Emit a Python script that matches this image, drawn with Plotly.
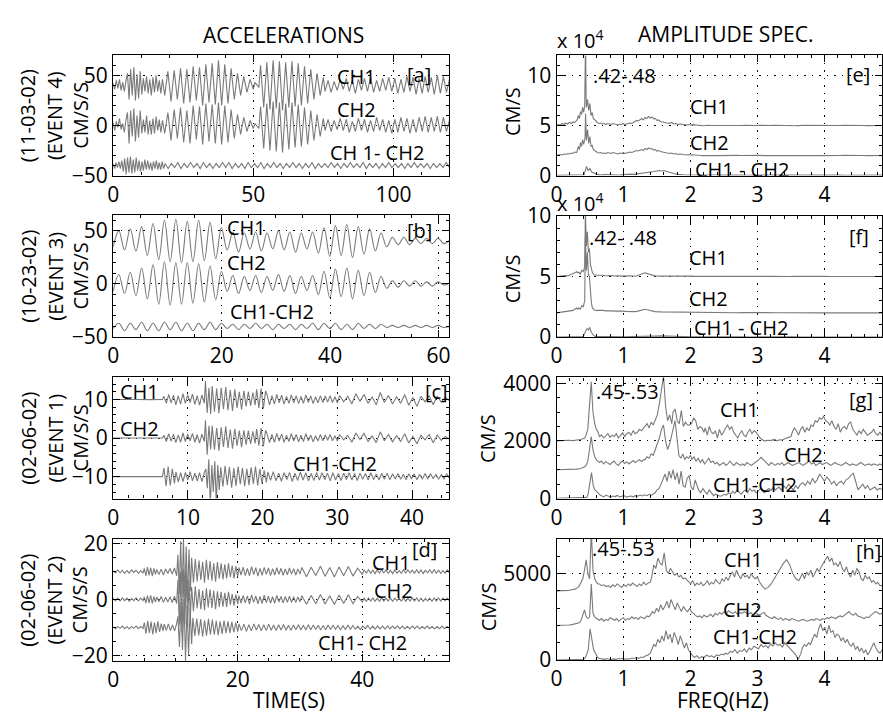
import numpy as np
import plotly.graph_objects as go

# ---------------- DATA ----------------
# Each trace: list of (x_start, x_end, values) runs; values evenly spaced in the run.
# Accelerations (cm/s/s), raw signals; plotted with vertical offsets.
A_CH1 = [
    (0.0, 17.6, [2,-4,5,-3,6,-5,3,-6,4,12,-14,16,-10,18,-15,11,-13,14,-9,7,-6,9,-8,6,-10,8,-7,10,-6,5,-8,6]),
    (18.4, 50.0, [-10,14,-16,15,-14,17,-18,16,-17,19,-15,18,-20,21,-17,22,-19,25,-20,21,-18,17,-14,12,-10,9,-7,6,-4]),
    (50.6, 52.0, [3,-2]),
    (52.6, 75.0, [20,-22,23,-24,25,-23,24,-25,23,-22,24,-21,22,-20,19,-18,16,-14,12,-10,8]),
    (75.6, 120.0, [-6,5,-7,4,-5,6,-4,7,-6,5,-8,6,-5,7,-6,8,-7,5,-6,7,-5,8,-6,7,-8,6,-7,9,-6,8,-9,7,-8,9,-7,8,-9,10,-8,9,-7,6]),
]
A_CH2 = [
    (0.0, 17.6, [3,-5,4,-2,7,-4,2,-7,5,13,-18,15,-11,17,-16,10,-12,15,-8,6,-7,10,-9,5,-9,7,-8,9,-5,6,-7,5]),
    (18.4, 50.0, [-8,13,-15,16,-13,18,-17,15,-18,20,-14,19,-19,22,-16,21,-18,23,-19,20,-17,16,-13,11,-9,8,-6,5,-3]),
    (50.6, 52.0, [2,-3]),
    (52.6, 75.0, [19,-23,22,-25,24,-26,23,-27,22,-24,23,-22,21,-21,18,-19,15,-15,11,-11,7]),
    (75.6, 120.0, [-5,6,-6,5,-4,7,-5,6,-7,4,-6,7,-5,6,-7,5,-6,8,-5,6,-7,5,-8,6,-7,8,-6,7,-8,6,-7,8,-6,9,-7,8,-6,9,-7,8,-6,5]),
]
A_DIF = [
    (0.0, 18.0, [2,-3,3,-2,4,-3,5,-6,7,-9,8,-7,9,-8,6,-7,8,-5,5,-6,4,-5,6,-4,5,-4,3,-5,4,-3,5,-4,3,-4,4,-3]),
    (18.5, 120.0, [2,-3,2,-2,3,-3,2,-2,3,-2,2,-3,3,-2,2,-3,2,-2,3,-2,3,-3,2,-2,2,-3,3,-2,2,-2,3,-3,2,-2,3,-2,2,-3,2,-2,3,-2,2,-3,2,-2,3,-3,2,-2,2,-2,3,-2,2,-3,2,-2,3,-2,2,-2,3,-3,2,-2,2,-3,2,-2,3,-2,2,-2,2,-3,2,-2,3,-2,2,-2,2,-3,2,-2,2,-2,3,-2]),
]
B_CH1 = [(0.0, 62.0, [-5,10,-8,12,-9,14,-13,17,-17,20,-19,21,-20,19,-19,20,-18,18,-16,13,-8,9,-10,8,-7,9,-9,8,-7,10,-8,9,-10,8,-7,9,-11,13,-14,15,-13,16,-15,14,-12,12,-9,8,-5,4,-3,4,-3,3,-2,3,-2,3,-2,1])]
B_CH2 = [(0.0, 62.0, [-7,9,-9,11,-11,15,-14,18,-19,21,-20,20,-19,20,-18,19,-17,17,-15,12,-7,8,-9,7,-6,8,-8,7,-6,9,-7,8,-9,7,-6,8,-10,12,-13,14,-12,15,-14,13,-11,11,-8,7,-4,3,-3,3,-2,3,-2,2,-2,2,-1,1])]
B_DIF = [(0.0, 62.0, [-2,3,-4,3,-3,4,-4,3,-4,4,-3,4,-4,3,-4,3,-3,4,-3,3,-2,2,-3,2,-2,3,-2,2,-3,2,-2,2,-3,2,-2,3,-3,3,-2,3,-3,2,-3,3,-2,2,-2,2,-1,1,-1,1,-1,1,-1,1,-1,1,-1,0])]
C_CH1 = [
    (0.0, 6.6, [0,0.05,0,-0.05,0]),
    (6.8, 12.2, [0.8,-1.0,1.3,-0.9,1.1,-1.4,0.9,-1.2,1.5,-1.0,1.2,-0.8,1.4,-1.3,1.0,-1.5,1.2,-1.0]),
    (12.35, 13.05, [4.8,-3.5,3.0,-3.8]),
    (13.25, 19.0, [3.5,-3.2,2.8,-3.6,3.0,-2.5,3.2,-2.8,2.4,-3.0,2.6,-2.2,2.0,-2.6,2.2,-1.8,2.0,-1.6,1.8,-1.5]),
    (19.2, 20.4, [2.6,-2.2,2.8,-2.4,2.2]),
    (20.6, 30.0, [1.2,-1.4,1.0,-1.2,1.3,-0.9,1.1,-1.2,0.8,-1.0,1.2,-0.9,1.0,-1.1,0.8,-1.0,1.2,-0.8,0.9,-1.1,0.7,-0.9,1.0,-0.8,0.9,-0.7,1.0,-0.8,0.7,-0.9]),
    (30.3, 45.0, [1.0,-0.6,0.8,-1.2,1.5,-0.5,1.3,-1.0,0.6,-1.4,1.8,-0.8,1.0,-1.2,0.7,-1.0,1.2,-1.5,0.5,-1.8,0.8,-0.6,1.0,-1.4,0.9,-0.7,0.5,-0.3]),
]
C_CH2 = [
    (0.0, 6.6, [0,0,0.05,0,0]),
    (6.8, 12.2, [0.7,-0.9,1.1,-0.8,1.0,-1.2,0.8,-1.1,1.3,-0.9,1.0,-0.7,1.2,-1.1,0.9,-1.3,1.0,-0.9]),
    (12.35, 13.05, [4.6,-4.3,3.2,-3.0]),
    (13.25, 19.0, [3.2,-3.0,2.6,-3.3,2.8,-2.3,3.0,-2.6,2.2,-2.8,2.4,-2.0,1.9,-2.4,2.0,-1.7,1.9,-1.5,1.7,-1.4]),
    (19.2, 20.4, [2.4,-2.0,2.6,-2.2,2.0]),
    (20.6, 30.0, [1.0,-1.2,0.9,-1.1,1.2,-0.8,1.0,-1.1,0.7,-0.9,1.1,-0.8,0.9,-1.0,0.7,-0.9,1.1,-0.7,0.8,-1.0,0.6,-0.8,0.9,-0.7,0.8,-0.6,0.9,-0.7,0.6,-0.8]),
    (30.3, 45.0, [0.9,-0.5,0.7,-1.1,1.3,-0.4,1.2,-0.9,0.5,-1.2,1.6,-0.7,0.9,-1.0,0.6,-0.9,1.1,-1.3,0.4,-1.5,0.7,-0.5,0.9,-1.2,0.8,-0.6,0.4,-0.3]),
]
C_DIF = [
    (0.0, 6.6, [0,0,0,0,0]),
    (6.8, 8.2, [2.2,-2.5,2.6,-2.3,2.0,-1.8]),
    (8.4, 12.2, [1.2,-1.4,1.0,-1.3,1.1,-0.9,1.3,-1.1,0.9,-1.2,1.0,-1.3,1.1]),
    (12.4, 14.2, [2.0,-3.0,4.5,-7.5,3.0,-4.0,4.0,-7.0,3.0,-3.5]),
    (14.4, 20.5, [2.4,-2.6,2.8,-2.2,2.5,-2.9,2.2,-2.4,2.6,-2.0,2.3,-2.5,2.0,-2.2,2.4,-1.9,2.6,-2.3,2.0,-1.8,1.6,-1.5]),
    (20.7, 45.0, [1.2,-1.0,1.3,-1.1,0.9,-1.2,1.0,-0.8,1.1,-1.3,0.9,-1.0,1.2,-0.9,1.0,-1.1,0.8,-1.0,1.1,-0.9,1.0,-0.8,0.9,-1.1,1.0,-0.9,0.8,-1.0,0.9,-0.8,1.0,-0.9,0.8,-1.0,0.9,-0.7,0.8,-0.9,1.0,-0.8,0.7,-0.9,0.8,-0.7,0.9,-0.8,0.7,-0.6,0.8,-0.7,0.6,-0.8,0.7,-0.6,0.7,-0.8,0.6,-0.7,0.8,-0.6,0.7,-0.5,0.6,-0.7,0.5,-0.6,0.7,-0.5]),
]
D_CH1 = [
    (0.0, 4.8, [0.3,-0.5,0.6,-0.4,0.5,-0.6,0.4,-0.5,0.6,-0.3,0.5,-0.6,0.4,-0.5]),
    (5.0, 6.8, [1.2,-1.5,1.6,-1.3,1.4,-1.6,1.2,-1.0]),
    (7.0, 10.2, [0.8,-1.0,0.9,-1.2,1.0,-0.7,1.1,-0.9,1.3,-1.5]),
    (10.4, 12.4, [6,-8,11,-9,12,-10,9,-11,8,-7]),
    (12.6, 20.0, [5,-4,4.5,-3.5,4,-3,3.5,-4,4.2,-3,3.8,-3.2,3,-3.6,3.4,-2.5,3.0,-2.8,2.6,-2.4,3.0,-2.0,2.2,-2.4,2.0,-1.8]),
    (20.2, 30.0, [1.5,-1.2,1.6,-1.4,1.2,-1.5,1.8,-1.1,1.4,-1.6,1.2,-1.3,1.5,-1.0,1.3,-1.4,1.1,-1.2,1.4,-1.0,1.2,-1.3,1.0,-1.1,1.3,-0.9,1.1,-1.2,1.0,-0.9]),
    (30.3, 40.0, [1.5,-1.8,1.6,-1.4,1.9,-1.7,1.5,-1.9,1.7,-1.5,1.8,-1.6,1.2,-1.0]),
    (40.3, 54.0, [0.6,-0.5,0.7,-0.6,0.5,-0.7,0.6,-0.5,0.7,-0.4,0.6,-0.6,0.5,-0.7,0.6,-0.5,0.4,-0.6,0.7,-0.5,0.6,-0.4,0.5,-0.6,0.7,-0.5,0.6,-0.7,0.5,-0.4,0.6,-0.5,0.7,-0.6,0.5,-0.6,0.4,-0.5,0.6,-0.4]),
]
D_CH2 = [
    (0.0, 4.8, [0.4,-0.4,0.5,-0.5,0.6,-0.4,0.5,-0.6,0.4,-0.4,0.6,-0.5,0.5,-0.4]),
    (5.0, 6.8, [1.0,-1.3,1.4,-1.2,1.5,-1.4,1.1,-0.9]),
    (7.0, 10.2, [0.9,-0.8,1.1,-1.0,0.8,-0.9,1.0,-1.1,1.2,-1.4]),
    (10.4, 12.4, [7,-9,10,-12,11,-9,10,-10,7,-6]),
    (12.6, 20.0, [4.5,-4.2,4.8,-3.2,3.8,-3.4,3.2,-3.8,4.0,-2.8,3.6,-3.0,3.2,-3.4,3.0,-2.6,2.8,-2.5,2.4,-2.6,2.8,-1.8,2.0,-2.2,1.8,-1.6]),
    (20.2, 30.0, [1.4,-1.3,1.5,-1.2,1.3,-1.6,1.7,-1.0,1.3,-1.5,1.1,-1.4,1.6,-1.1,1.2,-1.3,1.0,-1.3,1.5,-0.9,1.1,-1.2,1.1,-1.0,1.2,-1.0,1.0,-1.1,0.9,-0.8]),
    (30.3, 40.0, [1.4,-1.7,1.5,-1.5,1.8,-1.6,1.4,-1.8,1.6,-1.4,1.7,-1.5,1.1,-0.9]),
    (40.3, 54.0, [0.5,-0.6,0.6,-0.5,0.6,-0.6,0.5,-0.6,0.6,-0.5,0.5,-0.5,0.6,-0.6,0.5,-0.4,0.5,-0.5,0.6,-0.6,0.5,-0.5,0.6,-0.5,0.6,-0.6,0.5,-0.6,0.4,-0.5,0.5,-0.6,0.6,-0.5,0.6,-0.5,0.5,-0.4,0.5,-0.5]),
]
D_DIF = [
    (0.0, 4.8, [0.3,-0.4,0.4,-0.3,0.5,-0.4,0.3,-0.5,0.4,-0.3,0.5,-0.4,0.4,-0.3]),
    (5.0, 8.0, [1.8,-2.2,2.4,-1.9,2.1,-2.5,1.8,-2.0,2.2,-1.6,1.4,-1.2]),
    (8.2, 10.2, [1.2,-1.0,1.3,-1.1,0.9,-1.2,1.4]),
    (10.4, 12.6, [4,-7,9,-8,10,-12,8,-10,7,-6]),
    (12.8, 20.0, [3.5,-3.0,3.2,-2.8,3.0,-3.3,2.6,-2.9,3.1,-2.5,2.8,-2.6,2.4,-2.7,2.2,-2.3,2.5,-2.0,2.2,-1.9,2.0,-1.7,1.8,-1.5]),
    (20.2, 54.0, [1.3,-1.1,1.2,-1.4,1.0,-1.2,1.3,-0.9,1.1,-1.2,1.0,-1.1,1.2,-1.0,0.9,-1.1,1.0,-0.9,1.1,-1.0,0.8,-1.0,0.9,-0.8,1.0,-0.9,0.8,-0.9,1.0,-0.8,0.9,-0.7,0.8,-0.9,0.7,-0.8,0.9,-0.7,0.8,-0.6,0.7,-0.8,0.6,-0.7,0.8,-0.6,0.7,-0.6,0.5,-0.7,0.6,-0.5,0.7,-0.6,0.5,-0.6,0.6,-0.5,0.5,-0.6,0.6,-0.5,0.5,-0.4,0.6,-0.5,0.5,-0.5,0.4,-0.5,0.5,-0.4,0.5,-0.5,0.4,-0.4,0.5,-0.4,0.4,-0.5,0.4,-0.4,0.5,-0.4,0.4,-0.3]),
]

# Amplitude spectra (as plotted, including the stacking offsets). e,f in units of 1e4 cm/s.
E_CH1 = [
    (0.0, 0.30, [5.0,5.1,5.05,5.2,5.1,5.25,5.15,5.3,5.2,5.35,5.3,5.5]),
    (0.31, 0.42, [5.6,6.0,5.7,6.4,6.1,6.8,6.3,7.0]),
    (0.425, 0.44, [9.0,14.0,8.0]),
    (0.445, 0.60, [6.8,7.6,6.5,7.2,6.0,6.3,5.7,5.6,5.4,5.35]),
    (0.61, 1.15, [5.3,5.2,5.25,5.15,5.2,5.1,5.2,5.15,5.1,5.2,5.15,5.1,5.05,5.15,5.1,5.2,5.1,5.15,5.2,5.25,5.2,5.3]),
    (1.17, 1.60, [5.4,5.5,5.45,5.6,5.7,5.55,5.8,5.7,5.9,5.75,5.85,5.65,5.7,5.5,5.55,5.4,5.35,5.3]),
    (1.62, 2.10, [5.3,5.25,5.2,5.3,5.15,5.2,5.1,5.15,5.1,5.12,5.05,5.1,5.05,5.08,5.04,5.03]),
    (2.12, 4.86, [5.02,4.98,5.03,5.0,4.99,5.02,5.0,4.98,5.01,5.0,5.02,4.99,5.0,5.01,4.98,5.0,5.02,5.0,4.99,5.01,5.0,4.98,5.01,5.0,5.06,5.0,4.98,5.01,5.0,4.99,5.0,5.01,4.99,5.0,5.02,5.0,4.99,5.01,5.0,5.0]),
]
E_CH2 = [
    (0.0, 0.30, [2.0,2.05,2.1,2.05,2.15,2.1,2.2,2.15,2.25,2.2,2.35,2.3]),
    (0.31, 0.42, [2.5,2.9,2.6,3.3,2.9,3.6,3.1,3.8]),
    (0.425, 0.44, [3.8,6.2,3.6]),
    (0.445, 0.60, [3.5,4.6,3.2,3.9,2.9,3.0,2.6,2.5,2.4,2.35]),
    (0.61, 1.15, [2.3,2.25,2.3,2.2,2.25,2.2,2.3,2.25,2.2,2.3,2.25,2.2,2.15,2.25,2.2,2.3,2.2,2.25,2.3,2.35,2.3,2.4]),
    (1.17, 1.60, [2.4,2.5,2.45,2.55,2.6,2.5,2.7,2.6,2.75,2.65,2.7,2.55,2.6,2.45,2.5,2.4,2.35,2.3]),
    (1.62, 2.10, [2.3,2.25,2.2,2.25,2.15,2.2,2.1,2.15,2.1,2.12,2.05,2.1,2.05,2.08,2.04,2.03]),
    (2.12, 4.86, [2.02,1.99,2.02,2.0,1.99,2.01,2.0,1.99,2.01,2.0,2.02,1.99,2.0,2.01,1.99,2.0,2.02,2.0,1.99,2.01,2.0,1.99,2.01,2.0,2.05,2.0,1.99,2.01,2.0,1.99,2.0,2.01,1.99,2.0,2.02,2.0,1.99,2.01,2.0,2.0]),
]
E_DIF = [
    (0.0, 0.41, [0.02,0.03,0.02,0.04,0.03,0.05,0.04,0.06,0.05,0.08]),
    (0.42, 0.60, [0.3,0.9,0.5,0.7,0.35,0.3,0.2,0.12]),
    (0.62, 1.20, [0.08,0.06,0.1,0.07,0.05,0.08,0.06,0.1,0.07,0.09,0.12,0.1,0.14,0.12,0.15]),
    (1.22, 1.80, [0.18,0.2,0.25,0.3,0.28,0.35,0.4,0.45,0.5,0.45,0.5,0.4,0.3,0.25,0.18,0.12]),
    (1.82, 4.86, [0.1,0.08,0.06,0.07,0.05,0.06,0.04,0.05,0.04,0.06,0.05,0.04,0.05,0.03,0.04,0.05,0.04,0.03,0.05,0.04,0.06,0.05,0.04,0.05,0.1,0.06,0.05,0.04,0.06,0.05,0.04,0.05,0.03,0.04,0.05,0.04,0.03,0.04,0.05,0.04]),
]
F_CH1 = [
    (0.0, 0.30, [5.0,5.02,5.0,5.05,5.03,5.08,5.05,5.1,5.15,5.2,5.3,5.4]),
    (0.31, 0.42, [5.3,5.35,5.2,5.5,5.4,5.8]),
    (0.43, 0.55, [10.5,7.5,8.7,7.0,7.3,6.0,5.6,5.3,5.2]),
    (0.56, 1.20, [5.15,5.1,5.12,5.08,5.1,5.06,5.08,5.05,5.07,5.04,5.06,5.05,5.03,5.05,5.04,5.03,5.05,5.04,5.03,5.04]),
    (1.22, 1.45, [5.1,5.15,5.2,5.3,5.25,5.2,5.1,5.08]),
    (1.47, 4.86, [5.05,5.03,5.04,5.02,5.03,5.02,5.03,5.01,5.02,5.03,5.01,5.02,5.01,5.02,5.01,5.0,5.02,5.01,5.0,5.01,5.02,5.0,5.01,5.0,5.01,5.02,5.0,5.01,5.0,5.01,5.0,5.01,5.0,5.01,5.0,5.01,5.0,5.0,5.01,5.0]),
]
F_CH2 = [
    (0.0, 0.30, [2.0,2.02,2.03,2.05,2.06,2.08,2.1,2.12,2.15,2.2,2.3,2.4]),
    (0.31, 0.42, [2.3,2.4,2.3,2.6,2.5,3.0]),
    (0.43, 0.55, [8.2,5.5,7.0,5.2,5.0,3.8,2.8,2.4,2.3]),
    (0.56, 1.20, [2.25,2.2,2.22,2.18,2.2,2.16,2.18,2.15,2.16,2.14,2.15,2.13,2.12,2.14,2.12,2.1,2.12,2.11,2.1,2.12]),
    (1.22, 1.45, [2.15,2.2,2.25,2.3,2.25,2.2,2.15,2.12]),
    (1.47, 4.86, [2.1,2.08,2.07,2.06,2.05,2.05,2.04,2.04,2.03,2.03,2.02,2.03,2.02,2.02,2.01,2.02,2.01,2.01,2.02,2.01,2.0,2.01,2.01,2.0,2.01,2.0,2.0,2.01,2.0,2.0,2.01,2.0,2.0,2.0,2.01,2.0,2.0,2.0,2.0,2.0]),
]
F_DIF = [
    (0.0, 0.40, [0.01,0.02,0.01,0.02,0.02,0.03,0.02,0.03,0.04,0.05]),
    (0.41, 0.56, [0.2,0.5,0.7,0.6,0.8,0.4,0.2,0.1]),
    (0.58, 4.86, [0.06,0.04,0.03,0.04,0.03,0.05,0.04,0.06,0.08,0.1,0.07,0.05,0.04,0.03,0.02,0.03,0.02,0.02,0.03,0.02,0.02,0.01,0.02,0.02,0.01,0.02,0.01,0.02,0.01,0.01,0.02,0.01,0.01,0.02,0.01,0.01,0.01,0.02,0.01,0.01]),
]
G_CH1 = [
    (0.0, 0.42, [2000,2010,2005,2020,2010,2030,2050,2100]),
    (0.44, 0.62, [2200,2400,3200,4050,3000,2600,2400,2300]),
    (0.64, 1.30, [2150,2200,2100,2180,2250,2120,2200,2150,2250,2100,2200,2280,2150,2250,2300,2200,2350,2250,2300,2400,2350,2450]),
    (1.32, 1.72, [2500,2600,2450,2650,2550,2700,2900,3300,3700,4250,3200,2700,2900,2600]),
    (1.74, 2.20, [3000,3100,2700,2600,3050,2500,2650,2550,2550,2600,2800,2700,2400,2500,2450,2300]),
    (2.22, 3.10, [2450,2200,2500,2300,2250,2350,2100,2400,2200,2300,2450,2550,2400,2500,2300,2200,2100,2250,2350,2200,2150,2300,2400,2250,2350,2300,2200,2100,2050,2000]),
    (3.12, 3.50, [2000,2020,2010,2030,2050,2000,2040,2030,2060,2080,2100,2150]),
    (3.52, 4.86, [2300,2450,2350,2200,2400,2500,2300,2450,2350,2550,2500,2700,2650,2800,2750,2850,2700,2650,2550,2700,2500,2400,2600,2300,2450,2500,2400,2600,2650,2400,2300,2200,2350,2250,2400,2300,2200,2250,2300,2400,2250,2200,2300,2200]),
]
G_CH2 = [
    (0.0, 0.42, [1000,1000,1005,1010,1005,1020,1040,1100]),
    (0.44, 0.62, [1150,1300,1700,2150,1700,1450,1350,1300]),
    (0.64, 1.30, [1250,1300,1200,1280,1220,1180,1250,1300,1200,1150,1250,1300,1220,1280,1200,1250,1320,1250,1300,1350,1280,1350]),
    (1.32, 1.72, [1350,1450,1400,1550,1500,1700,1900,2100,2400,2550,2000,1700,1900,2200]),
    (1.74, 2.00, [2500,2700,2100,1500,1400,1550,1350,1450,1400,1500]),
    (2.02, 3.00, [1350,1450,1300,1400,1250,1350,1200,1300,1400,1250,1300,1200,1250,1150,1200,1250,1150,1200,1300,1200,1150,1250,1200,1150,1200,1150,1250,1200,1150,1200,1250,1300]),
    (3.02, 3.12, [1350,1430,1350,1250]),
    (3.14, 4.86, [1200,1150,1250,1200,1150,1220,1180,1250,1150,1200,1250,1200,1150,1180,1220,1250,1200,1150,1200,1250,1300,1200,1250,1150,1200,1250,1180,1220,1250,1200,1150,1200,1250,1200,1180,1150,1200,1250,1200,1150,1200,1180,1150,1200,1250,1200,1150,1180,1200,1150,1200,1180,1150,1200,1150]),
]
G_DIF = [
    (0.0, 0.45, [10,15,10,20,15,20,30,40]),
    (0.47, 0.65, [150,600,900,450,300,250,180,120]),
    (0.67, 1.45, [100,60,120,80,50,90,70,110,60,80,100,50,70,90,60,100,80,120,90,130,100,150,120,160]),
    (1.47, 2.10, [200,300,350,500,700,850,600,950,700,1000,650,900,500,950,450,400,700,800,400,300,650,400]),
    (2.12, 3.30, [300,200,350,250,150,300,200,100,150,120,80,100,150,120,200,150,250,180,300,220,150,250,300,200,350,250,300,200,280,350,250,200,300,350,280,400,300,350]),
    (3.32, 4.86, [400,300,450,350,500,400,300,450,350,500,550,450,600,500,700,550,650,850,700,600,750,650,500,600,450,550,600,500,650,700,800,880,600,300,400,500,350,450,300,350,400,300,350,320]),
]
H_CH1 = [
    (0.0, 0.32, [4000,4000,4010,4020,4030,4060,4100,4200]),
    (0.34, 0.62, [4300,4500,4700,5200,5800,5000,4700,7500,5200,4700,4500,4400]),
    (0.64, 1.40, [4400,4300,4350,4250,4300,4200,4350,4250,4400,4300,4200,4350,4250,4400,4300,4450,4350,4250,4400,4300,4500,4350,4450,4500]),
    (1.42, 1.95, [4800,5500,5300,5900,5600,5500,6200,5200,5000,5300,5100,4900,5000,4800,4900,4700,4750,4600]),
    (1.97, 3.00, [4500,4400,4600,4300,4450,4350,4500,4300,4400,4600,4350,4500,4400,4650,4500,4400,4700,4550,4800,4600,4900,5100,4800,5200,4900,4700,5000,4800,4900,4700,5000,4800,4700,4800]),
    (3.02, 3.62, [4600,4300,4100,4200,4400,4700,5000,5300,5600,5800,5500,5000,4700,4600]),
    (3.64, 4.86, [4800,5000,4700,5100,4900,5200,4800,5000,5300,5100,5400,5600,5800,6000,5700,5900,5500,5600,5400,5700,5300,5100,5400,5000,4800,5200,4900,5300,5100,4700,4600,4900,4700,4800,4500,4600,4400,4500,4300,4300]),
]
H_CH2 = [
    (0.0, 0.32, [2000,2000,2010,2020,2030,2050,2080,2100]),
    (0.34, 0.62, [2150,2300,2600,2900,2500,2400,2500,4400,2700,2500,2400,2350]),
    (0.64, 1.38, [2300,2400,2250,2350,2300,2450,2350,2300,2400,2250,2350,2450,2300,2400,2350,2500,2400,2450,2350,2500,2450,2400,2550,2500]),
    (1.40, 2.05, [2600,2800,2700,3000,2800,3200,2900,3100,3400,3000,3500,3200,2900,3300,3000,2800,3100,2900,2800,3000,2750,2700]),
    (2.07, 3.10, [2600,2500,2550,2450,2600,2500,2550,2650,2500,2700,2600,2750,2650,2800,2700,2850,2750,2700,2800,2650,2750,2700,2800,2700,2650,2750,2600,2700,2650,2600,2700,2750]),
    (3.12, 4.86, [2600,2500,2450,2400,2500,2400,2350,2450,2300,2400,2350,2300,2400,2350,2300,2250,2300,2350,2300,2250,2300,2350,2300,2400,2350,2300,2400,2350,2450,2400,2500,2450,2400,2500,2550,2500,2600,2700,2800,2650,2600,2700,2550,2500,2450,2400,2500,2450,2600,2700,2800,2750,2650,2700]),
]
H_DIF = [
    (0.0, 0.40, [0,10,5,15,10,20,30,50]),
    (0.42, 0.66, [100,300,600,1800,1200,600,400,200,100,80]),
    (0.68, 1.40, [60,40,80,50,30,70,40,90,60,100,50,80,60,120,90,150,100,180,150,250,300,400]),
    (1.42, 2.00, [600,900,800,1200,1000,1400,1100,1700,1200,1500,1000,1600,1300,900,1400,1000,700,1000,600,400]),
    (2.02, 2.50, [300,150,250,100,200,150,300,200,250,150,300,250,350,300]),
    (2.52, 3.55, [400,350,500,450,600,400,550,500,650,450,700,600,800,700,650,900,750,850,700,950,800,1000,850,900,750,1000,850,700,600,400]),
    (3.57, 3.65, [300,50,400]),
    (3.67, 4.86, [700,900,800,1000,900,1200,1500,1300,1800,2100,1700,1900,1500,2000,1600,1700,1300,1500,1400,1100,1300,1000,1200,900,800,1000,600,800,500,700,400,600,300,500,800,1000,700,500,400,600]),
]

ACC_OFFSETS = {"a": (40, 0, -40), "b": (40, 0, -40), "c": (10, 0, -10), "d": (10, 0, -10)}

EVENT_LINES = {
    "a": ["(11-03-02)", "(EVENT 4)", "CM/S/S"],
    "b": ["(10-23-02)", "(EVENT 3)", "CM/S/S"],
    "c": ["(02-06-02)", "(EVENT 1)", "CM/S/S"],
    "d": ["(02-06-02)", "(EVENT 2)", "CM/S/S"],
}
LABELS = {
    "a": [("CH1", 87, 49), ("CH2", 87, 16), ("CH 1- CH2", 94, -27), ("[a]", 109, 51)],
    "b": [("CH1", 24.6, 53), ("CH2", 24.6, 20), ("CH1-CH2", 29.2, -25.5), ("[b]", 56.5, 50)],
    "c": [("CH1", 3.5, 12.1), ("CH2", 3.5, 2.5), ("CH1-CH2", 29.7, -6.7), ("[c]", 43.2, 12.1)],
    "d": [("CH1", 44.7, 13.1), ("[d]", 50, 17.8), ("CH2", 45, 3.4), ("CH1- CH2", 40, -15.5)],
    "e": [(".42-.48", 1.01, 10.0), ("CH1", 2.28, 6.9), ("CH2", 2.28, 3.3), ("CH1 - CH2", 2.77, 0.6), ("[e]", 4.5, 10.1)],
    "f": [(".42- .48", 0.99, 8.2), ("CH1", 2.27, 6.6), ("CH2", 2.27, 3.2), ("CH1 - CH2", 2.76, 0.75), ("[f]", 4.52, 8.3)],
    "g": [(".45-.53", 1.06, 3700), ("CH1", 2.73, 3100), ("CH2", 3.69, 1540), ("CH1-CH2", 2.97, 500), ("[g]", 4.55, 3430)],
    "h": [(".45-.53", 1.0, 6450), ("CH1", 2.79, 5800), ("CH2", 2.77, 2950), ("CH1-CH2", 2.97, 1350), ("[h]", 4.66, 6280)],
}

# ---------------- LAYOUT ----------------
W, H = 883, 725
FONT = "Open Sans"
FS = 20
LINE_COLOR = "#7a7a7a"

def px(x):
    return x / W

def py(y):
    return 1 - y / H

PANELS = {
    "a": dict(i=1, xr=[0, 120], yr=[-50, 70], dx=50, dy=50, xd=(108, 447), yd=(42, 167)),
    "b": dict(i=2, xr=[0, 62], yr=[-50, 65], dx=20, dy=50, xd=(108, 447), yd=(208, 335)),
    "c": dict(i=3, xr=[0, 45], yr=[-15.7, 15.7], dx=10, dy=10, xd=(108, 447), yd=(377, 503)),
    "d": dict(i=4, xr=[0, 54], yr=[-22, 21.7], dx=20, dy=20, xd=(108, 447), yd=(545, 672)),
    "e": dict(i=5, xr=[0, 4.86], yr=[0, 12], dx=1, dy=5, xd=(555, 883), yd=(42, 167)),
    "f": dict(i=6, xr=[0, 4.86], yr=[0, 10], dx=1, dy=5, xd=(555, 883), yd=(209, 335)),
    "g": dict(i=7, xr=[0, 4.86], yr=[0, 4200], dx=1, dy=2000, xd=(555, 883), yd=(377, 503)),
    "h": dict(i=8, xr=[0, 4.86], yr=[0, 7000], dx=1, dy=5000, xd=(555, 883), yd=(545, 671)),
}

SERIES = {
    "a": (A_CH1, A_CH2, A_DIF), "b": (B_CH1, B_CH2, B_DIF),
    "c": (C_CH1, C_CH2, C_DIF), "d": (D_CH1, D_CH2, D_DIF),
    "e": (E_CH1, E_CH2, E_DIF), "f": (F_CH1, F_CH2, F_DIF),
    "g": (G_CH1, G_CH2, G_DIF), "h": (H_CH1, H_CH2, H_DIF),
}


def build(runs):
    xs, ys = [], []
    for x0, x1, vals in runs:
        xs.append(np.linspace(x0, x1, len(vals)))
        ys.append(np.asarray(vals, dtype=float))
    return np.concatenate(xs), np.concatenate(ys)


fig = go.Figure()
layout = dict(
    width=W, height=H, margin=dict(l=0, r=0, t=0, b=0),
    paper_bgcolor="white", plot_bgcolor="white", showlegend=False,
    font=dict(family=FONT, size=FS, color="black"),
)
annotations = []

for key, p in PANELS.items():
    i = p["i"]
    xa = "xaxis" if i == 1 else f"xaxis{i}"
    ya = "yaxis" if i == 1 else f"yaxis{i}"
    xref = "x" if i == 1 else f"x{i}"
    yref = "y" if i == 1 else f"y{i}"
    common = dict(
        showline=True, linecolor="black", linewidth=1.2, mirror="allticks",
        ticks="inside", ticklen=7, tickwidth=1, tickcolor="black",
        minor=dict(ticks="inside", ticklen=3, tickwidth=1, tickcolor="black", showgrid=False),
        showgrid=True, gridcolor="black", griddash="1.5px,6px", gridwidth=1.2,
        zeroline=False, tickfont=dict(family=FONT, size=FS + 1, color="black"),
        fixedrange=True,
    )
    layout[xa] = dict(common, domain=[px(p["xd"][0]), min(1.0, px(p["xd"][1]))],
                      range=p["xr"], dtick=p["dx"], tick0=0, anchor=yref)
    layout[ya] = dict(common, domain=[py(p["yd"][1]), py(p["yd"][0])],
                      range=p["yr"], dtick=p["dy"], tick0=0, anchor=xref)

    runs = SERIES[key]
    offs = ACC_OFFSETS.get(key, (0, 0, 0))
    for r, off in zip(runs, offs):
        x, y = build(r)
        fig.add_trace(go.Scatter(
            x=x, y=y + off, mode="lines", xaxis=xref, yaxis=yref,
            line=dict(color=LINE_COLOR, width=1.1, shape="spline" if key == "b" else "linear"),
            hoverinfo="skip"))

    for text, lx, ly in LABELS[key]:
        annotations.append(dict(text=text, x=lx, y=ly, xref=xref, yref=yref,
                                showarrow=False, font=dict(family=FONT, size=FS, color="black")))

# left y titles (three rotated lines)
for key, lines in EVENT_LINES.items():
    top, bot = PANELS[key]["yd"]
    cy = (top + bot) / 2
    for text, x in zip(lines, (22, 49, 75)):
        annotations.append(dict(text=text, x=px(x), y=py(cy), xref="paper", yref="paper",
                                textangle=-90, showarrow=False, xanchor="center", yanchor="middle",
                                font=dict(family=FONT, size=FS, color="black")))

# right y titles
for key, x, cy in (("e", 510, 100), ("f", 510, 274), ("g", 486, 441), ("h", 486, 616)):
    annotations.append(dict(text="CM/S", x=px(x), y=py(cy), xref="paper", yref="paper",
                            textangle=-90, showarrow=False, xanchor="center", yanchor="middle",
                            font=dict(family=FONT, size=FS, color="black")))

# exponent markers
for cy in (26, 195):
    annotations.append(dict(text="x 10<sup>4</sup>", x=px(553), y=py(cy), xref="paper", yref="paper",
                            showarrow=False, xanchor="left", yanchor="middle",
                            font=dict(family=FONT, size=FS, color="black")))

# column titles and axis titles
for text, x, y in (("ACCELERATIONS", 280, 21), ("AMPLITUDE SPEC.", 725, 20),
                   ("TIME(S)", 285, 713), ("FREQ(HZ)", 723, 713)):
    annotations.append(dict(text=text, x=px(x), y=py(y), xref="paper", yref="paper",
                            showarrow=False, xanchor="center", yanchor="middle",
                            font=dict(family=FONT, size=FS + 1, color="black")))

layout["annotations"] = annotations
fig.update_layout(**layout)
fig.write_html("out.html")
